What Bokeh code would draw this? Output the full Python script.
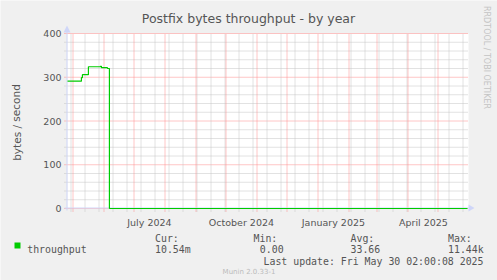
import pandas as pd
from bokeh.plotting import figure
from bokeh.models import Range1d
from bokeh.core.properties import value
from bokeh.embed import file_html
from bokeh.resources import INLINE

# ---------------- data ----------------
dates = ["2024-04-25 02:00:08", "2024-05-09", "2024-05-10", "2024-05-16",
         "2024-05-28", "2024-05-29", "2024-06-04", "2024-06-06", "2025-05-30 02:00:08"]
values = [291, 299, 306, 324, 325, 322, 320, 0, 0]

y_ticks = [0, 100, 200, 300, 400]
y_minor = [20, 40, 60, 80, 120, 140, 160, 180, 220, 240, 260, 280, 320, 340, 360, 380]
month_lines = ["2024-05-01", "2024-06-01", "2024-07-01", "2024-08-01", "2024-09-01",
               "2024-10-01", "2024-11-01", "2024-12-01", "2025-01-01", "2025-02-01",
               "2025-03-01", "2025-04-01", "2025-05-01"]
minor_lines = list(pd.date_range("2024-04-29", "2025-05-26", freq="14D").strftime("%Y-%m-%d"))
label_ticks = ["2024-07-16", "2024-10-16", "2025-01-16", "2025-04-16"]

title = "Postfix bytes throughput - by year"
y_label = "bytes / second"
series_name = "throughput"
legend_heads = ["Cur:", "Min:", "Avg:", "Max:"]
legend_vals = ["10.54m", "0.00", "33.66", "11.44k"]
last_update = "Last update: Fri May 30 02:00:08 2025"
watermark = "RRDTOOL / TOBI OETIKER"
footer = "Munin 2.0.33-1"

# ---------------- geometry ----------------
def ms(s):
    return pd.Timestamp(s).value / 1e6

xs = [ms(d) for d in dates]
x_start, x_end = xs[0], xs[-1]
Y_MIN, Y_MAX = 0, 400

W, H = 497, 280
FL, FT, FR, FB = 67, 33, 467, 208      # plotting area edges (canvas px)
px_x = (x_end - x_start) / (FR - FL)   # data per px
px_y = (Y_MAX - Y_MIN) / (FB - FT)

def X(cx):
    return x_start + (cx - FL) * px_x

def Y(cy):
    return Y_MIN + (FB - cy) * px_y

def cxo(x):
    return FL + (x - x_start) / px_x

def snapx(x):
    return X(round(cxo(x) - 0.5) + 0.5)

p = figure(width=W, height=H, x_range=Range1d(X(0), X(W)), y_range=Range1d(Y(H), Y(0)),
           min_border=0, toolbar_location=None, output_backend="svg",
           x_axis_location=None, y_axis_location=None)
p.background_fill_color = "#f0f0f0"
p.border_fill_color = "#f0f0f0"
p.outline_line_color = None
p.grid.visible = False

TXT = "#555555"
AXIS = "#cfd6f8"
RED = "#ff8c8c"
GRAY = "#c4c4c4"

# canvas (white plotting area)
p.quad(left=[x_start], right=[X(FR + 1)], bottom=[Y_MIN], top=[Y_MAX],
       fill_color="white", line_color=None)

# horizontal grid
p.segment(x0=[X(FL - 3)] * len(y_minor), x1=[X(FR + 1)] * len(y_minor),
          y0=y_minor, y1=y_minor, line_color=GRAY, line_dash="1 1", line_width=1)
p.segment(x0=[X(FL - 3)] * len(y_ticks), x1=[X(FR + 1)] * len(y_ticks),
          y0=y_ticks, y1=y_ticks, line_color=RED, line_dash="1 1", line_width=1)

# vertical grid
mn = [snapx(ms(d)) for d in minor_lines]
mo = [snapx(ms(d)) for d in month_lines]
p.segment(x0=mn, x1=mn, y0=[Y(FB + 3)] * len(mn), y1=[Y_MAX] * len(mn),
          line_color=GRAY, line_dash="1 1", line_width=1)
p.segment(x0=mo, x1=mo, y0=[Y(FB + 3)] * len(mo), y1=[Y_MAX] * len(mo),
          line_color=RED, line_dash="1 1", line_width=1)

# axes + arrows
p.segment(x0=[X(FL - 0.5), X(FL - 3)], x1=[X(FL - 0.5), X(FR + 1)],
          y0=[Y(FB + 2), Y(FB - 0.5)], y1=[Y(FT - 2), Y(FB - 0.5)],
          line_color=AXIS, line_width=1)
p.patch(x=[X(FL - 4), X(FL + 3), X(FL - 0.5)], y=[Y(FT - 1), Y(FT - 1), Y(FT - 8)],
        fill_color=AXIS, line_color=None)
p.patch(x=[X(FR + 1), X(FR + 1), X(FR + 7)], y=[Y(FB + 3), Y(FB - 4), Y(FB - 0.5)],
        fill_color=AXIS, line_color=None)

# data line
p.step(xs, values, mode="after", line_color="#00cc00", line_width=1.2)

# tick labels
p.text(x=[X(FL - 6)] * len(y_ticks), y=y_ticks, text=[str(v) for v in y_ticks],
       text_font=value("DejaVu Sans"), text_font_size=value("9.5px"),
       text_color=TXT, text_align="right", text_baseline="middle")
lt = [ms(d) for d in label_ticks]
p.text(x=lt, y=[Y(221.5)] * len(lt),
       text=[pd.Timestamp(d).strftime("%B %Y") for d in label_ticks],
       text_font=value("DejaVu Sans"), text_font_size=value("9.5px"),
       text_color=TXT, text_align="center", text_baseline="alphabetic")

# other texts
def lab(text, cx, cy, size, color=TXT, font="DejaVu Sans", align="left", angle=0.0):
    p.text(x=[X(cx)], y=[Y(cy)], text=[text], text_font=value(font),
           text_font_size=value(size), text_color=color, text_align=align,
           text_baseline="alphabetic", angle=angle)

lab(title, 248, 18, "12.5px", align="center")
lab(y_label, 16, 122, "10.5px", align="center", angle=1.5708)
lab(watermark, 486, 57, "8px", color="#c4c4c4", align="center", angle=-1.5708)

mono = "DejaVu Sans Mono"
head_x = [154.5, 253, 350, 447.5]
val_x = [154.5, 259.3, 350, 447.5]
for hx, vx, hd, vl in zip(head_x, val_x, legend_heads, legend_vals):
    lab(hd, hx, 237.5, "9.9px", font=mono)
    lab(vl, vx, 248.5, "9.9px", font=mono)
lab(series_name, 26.7, 248.5, "9.9px", font=mono)
lab(last_update, 483, 260.5, "9.9px", font=mono, align="right")
lab(footer, 248.5, 271.5, "7px", color="#bbbbbb", align="center")

# legend swatch
p.quad(left=[X(14)], right=[X(20)], top=[Y(242)], bottom=[Y(248)],
       fill_color="#00cc00", line_color=None)

open("out.html", "w").write(file_html(p, INLINE))
